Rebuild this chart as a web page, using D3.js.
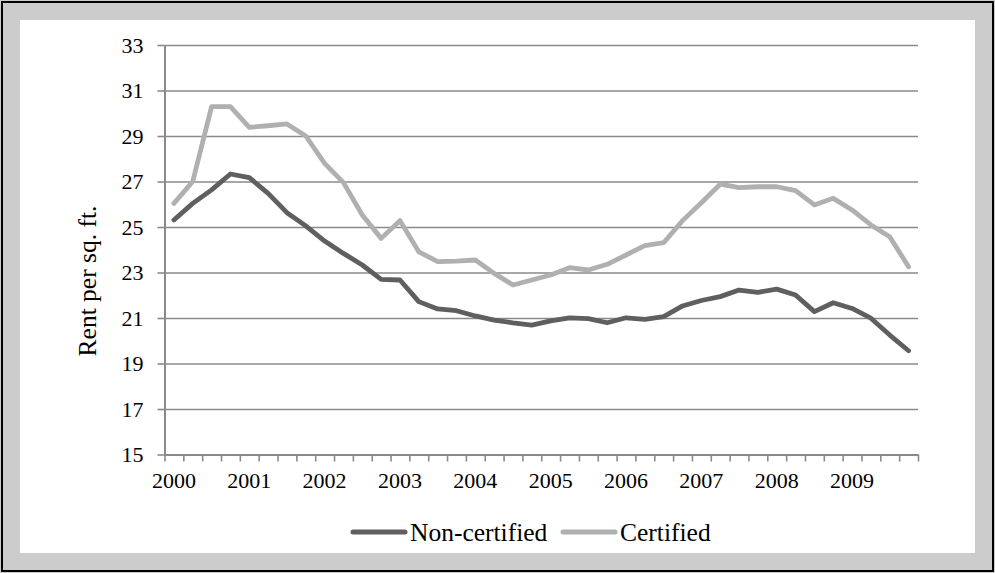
<!DOCTYPE html>
<html>
<head>
<meta charset="utf-8">
<script src="https://cdn.jsdelivr.net/npm/d3@7"></script>
<style>
  html, body { margin: 0; padding: 0; background: #fff; }
  svg { display: block; }
</style>
</head>
<body>
<svg id="chart" width="995" height="573"></svg>
<script>
// Quarterly asking rents, 2000 Q1 – 2009 Q4
const years = ["2000", "2001", "2002", "2003", "2004", "2005", "2006", "2007", "2008", "2009"];
const quarters = ["Q1", "Q2", "Q3", "Q4"];
const yTicks = [15, 17, 19, 21, 23, 25, 27, 29, 31, 33];

const nonCertified = [
  25.31, 26.04, 26.63, 27.33, 27.17, 26.48, 25.63, 25.05, 24.38, 23.84,
  23.33, 22.70, 22.67, 21.72, 21.40, 21.32, 21.09, 20.91, 20.79, 20.69,
  20.87, 21.01, 20.97, 20.79, 21.01, 20.94, 21.06, 21.53, 21.77, 21.94,
  22.23, 22.13, 22.27, 22.01, 21.28, 21.67, 21.42, 20.99, 20.25, 19.56
];
const certified = [
  26.04, 27.00, 30.29, 30.29, 29.38, 29.45, 29.53, 29.00, 27.80, 26.95,
  25.53, 24.50, 25.28, 23.91, 23.48, 23.50, 23.55, 22.96, 22.45, 22.67,
  22.89, 23.21, 23.11, 23.36, 23.77, 24.18, 24.31, 25.28, 26.07, 26.88,
  26.73, 26.77, 26.77, 26.60, 25.97, 26.26, 25.75, 25.09, 24.57, 23.25
];

const seriesNames = ["Non-certified", "Certified"];
const seriesColors = ["#5f5f5f", "#b0b0b0"];

const categories = years.flatMap(y => quarters.map(q => y + " " + q));
const FONT = '"Liberation Serif", "Times New Roman", serif';

const svg = d3.select("#chart");

// Frame: black outline, grey border, white chart area
svg.append("rect").attr("x", 0).attr("y", 0).attr("width", 995).attr("height", 573).attr("fill", "#cccccc");
svg.append("rect").attr("x", 2).attr("y", 2).attr("width", 991).attr("height", 569)
  .attr("fill", "none").attr("stroke", "#000").attr("stroke-width", 2);
svg.append("rect").attr("x", 20).attr("y", 20).attr("width", 955).attr("height", 533).attr("fill", "#fff");

const plot = { left: 164.5, right: 918, top: 45, bottom: 454.5 };

const x = d3.scaleBand().domain(categories).range([plot.left, plot.right]).padding(0);
const xEdges = d3.scaleLinear().domain([0, categories.length]).range([plot.left, plot.right]);
const y = d3.scaleLinear().domain([15, 33]).range([plot.bottom, plot.top]);

// Horizontal gridlines
svg.append("g")
  .attr("transform", `translate(${plot.left},0)`)
  .call(d3.axisLeft(y).tickValues(yTicks).tickSize(-(plot.right - plot.left)).tickFormat(""))
  .call(g => g.select(".domain").remove())
  .call(g => g.selectAll("line").attr("stroke", "#8a8a8a").attr("stroke-width", 1.6));

// Y axis with outward ticks and labels
svg.append("g")
  .attr("transform", `translate(${plot.left},0)`)
  .call(d3.axisLeft(y).tickValues(yTicks).tickSize(7).tickPadding(14).tickSizeOuter(0))
  .call(g => g.select(".domain").attr("stroke", "#8a8a8a").attr("stroke-width", 2))
  .call(g => g.selectAll("line").attr("stroke", "#8a8a8a").attr("stroke-width", 1.6))
  .call(g => g.selectAll("text")
    .style("font-family", FONT).style("font-size", "22px").style("fill", "#000"));

// X axis: tick marks on quarter boundaries
svg.append("g")
  .attr("transform", `translate(0,${plot.bottom})`)
  .call(d3.axisBottom(xEdges).tickValues(d3.range(categories.length + 1)).tickSize(7).tickFormat("").tickSizeOuter(0))
  .call(g => g.select(".domain").attr("stroke", "#8a8a8a").attr("stroke-width", 2))
  .call(g => g.selectAll("line").attr("stroke", "#8a8a8a").attr("stroke-width", 1.6));

// X axis: year labels centred on the first quarter of each year
svg.append("g")
  .attr("transform", `translate(0,${plot.bottom})`)
  .call(d3.axisBottom(x).tickValues(categories.filter((d, i) => i % 4 === 0))
    .tickSize(0).tickPadding(18).tickFormat(d => d.slice(0, 4)))
  .call(g => g.select(".domain").remove())
  .call(g => g.selectAll("text")
    .style("font-family", FONT).style("font-size", "22px").style("fill", "#000"));

// Y axis title
svg.append("text")
  .attr("transform", "translate(96,281) rotate(-90)")
  .attr("text-anchor", "middle")
  .style("font-family", FONT).style("font-size", "25.5px").style("fill", "#000")
  .text("Rent per sq. ft.");

// Series lines
const line = d3.line()
  .x((d, i) => x(categories[i]) + x.bandwidth() / 2)
  .y(d => y(d));

[nonCertified, certified].forEach((vals, k) => {
  svg.append("path")
    .datum(vals)
    .attr("fill", "none")
    .attr("stroke", seriesColors[k])
    .attr("stroke-width", 4.8)
    .attr("stroke-linejoin", "round")
    .attr("stroke-linecap", "round")
    .attr("d", line);
});

// Legend
const legendItems = [
  { name: seriesNames[0], color: seriesColors[0], x0: 353, x1: 405, tx: 410 },
  { name: seriesNames[1], color: seriesColors[1], x0: 563, x1: 615, tx: 620 }
];
const legend = svg.append("g");
legendItems.forEach(it => {
  legend.append("line")
    .attr("x1", it.x0).attr("x2", it.x1).attr("y1", 532).attr("y2", 532)
    .attr("stroke", it.color).attr("stroke-width", 5).attr("stroke-linecap", "round");
  legend.append("text")
    .attr("x", it.tx).attr("y", 541)
    .style("font-family", FONT).style("font-size", "25.5px").style("fill", "#000")
    .text(it.name);
});
</script>
</body>
</html>
